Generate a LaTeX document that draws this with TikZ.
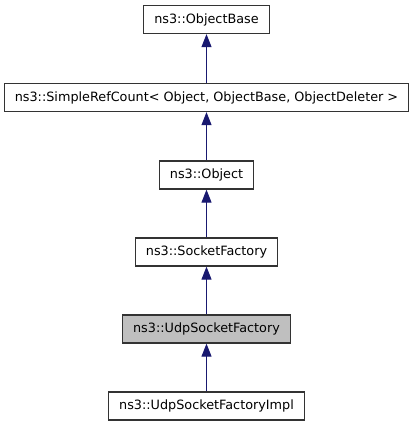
\documentclass[tikz,border=0pt]{standalone}
\usepackage{fontspec}
\setmainfont{DejaVu Sans}
\usetikzlibrary{arrows.meta}
\definecolor{edgeblue}{HTML}{191970}
\definecolor{boxline}{HTML}{333333}
\definecolor{current}{HTML}{BFBFBF}

\begin{document}
\begin{tikzpicture}[
    x=1pt, y=-1pt,
    cls/.style={draw=boxline, line width=1.3pt, fill=white, minimum height=28pt,
      inner xsep=10.5pt, font=\fontsize{12.8}{14}\selectfont},
    inherit/.style={draw=edgeblue, line width=1.1pt,
      -{Triangle[width=10pt,length=13pt]}}
  ]
  \useasboundingbox (0,0) rectangle (413,427);
  \node[cls] (base)    at (206.5,19.5) {ns3::ObjectBase};
  \node[cls] (refcnt)  at (206.5,97.5) {ns3::SimpleRefCount< Object, ObjectBase, ObjectDeleter >};
  \node[cls] (object)  at (206.5,175) {ns3::Object};
  \node[cls] (sockfac) at (206.5,252) {ns3::SocketFactory};
  \node[cls, fill=current] (udpfac) at (206.5,329) {ns3::UdpSocketFactory};
  \node[cls] (udpimpl) at (206.5,406) {ns3::UdpSocketFactoryImpl};
  % inheritance edges
  \draw[inherit] (refcnt) -- (base);
  \draw[inherit] (object) -- (refcnt);
  \draw[inherit] (sockfac) -- (object);
  \draw[inherit] (udpfac) -- (sockfac);
  \draw[inherit] (udpimpl) -- (udpfac);
\end{tikzpicture}
\end{document}
